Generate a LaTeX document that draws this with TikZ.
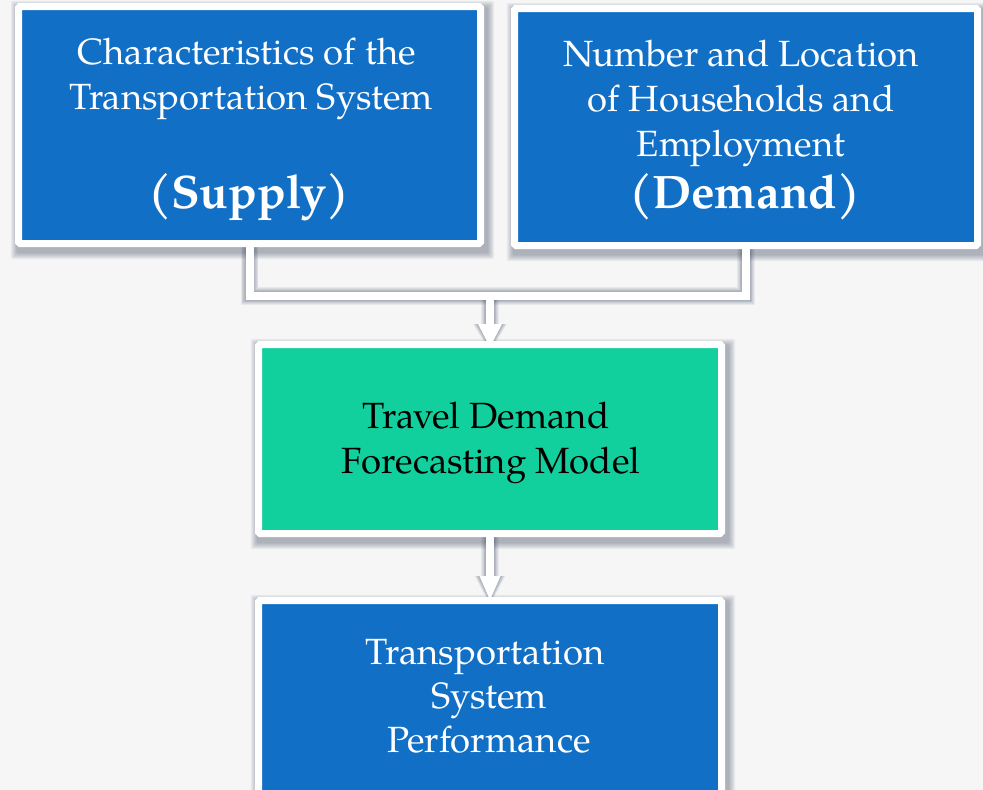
\documentclass[tikz,border=0pt]{standalone}
\usepackage{fontspec}
\setmainfont{TeX Gyre Pagella}
\usetikzlibrary{calc}
\definecolor{boxblue}{RGB}{17,111,198}
\definecolor{boxgreen}{RGB}{18,208,157}
\definecolor{bggray}{RGB}{246,246,246}
\definecolor{shadowgray}{RGB}{60,75,100}
\pgfdeclarelayer{bg}
\pgfsetlayers{bg,main}
\tikzset{
  box/.style={rectangle, draw=white, line width=7pt, inner sep=0pt, rounded corners=1.5pt},
  bluebox/.style={box, fill=boxblue},
  greenbox/.style={box, fill=boxgreen},
  txt/.style={anchor=base, inner sep=0pt, font=\fontsize{36.5}{45}\selectfont},
  bigtxt/.style={anchor=base, inner sep=0pt, font=\fontsize{47}{50}\selectfont\bfseries},
  conn/.style={draw=white, line width=8pt},
  tiphead/.style={fill=white, draw=none},
  connshadow/.style={draw=shadowgray, line width=8pt, opacity=0.08},
}
\newcommand{\myboxshadow}[1]{%
  \foreach \k in {1,...,8}{%
    \fill[shadowgray, opacity=0.06, rounded corners=2pt]
      ($(#1.north west)+(3-\k*0.9,5-\k*0.9)$) rectangle ($(#1.south east)+(3+\k*0.9,5+\k*0.9)$);
  }%
}
\begin{document}
\begin{tikzpicture}[x=1pt,y=-1pt]
\useasboundingbox (0,0) rectangle (983,790);
\begin{pgfonlayer}{bg}
  \fill[bggray] (0,0) rectangle (983,790);
\end{pgfonlayer}

% boxes
\node[bluebox, minimum width=462pt, minimum height=237pt] (sup) at (249.5,125) {};
\node[bluebox, minimum width=463pt, minimum height=237pt] (dem) at (746,127) {};
\node[greenbox, minimum width=463pt, minimum height=189pt] (tdf) at (490,439) {};
\node[bluebox, minimum width=463pt, minimum height=223pt] (tsp) at (490,712) {};

\begin{pgfonlayer}{bg}
  \myboxshadow{sup}
  \myboxshadow{dem}
  \myboxshadow{tdf}
  \myboxshadow{tsp}
\end{pgfonlayer}

% connector coordinates
\coordinate (j) at (490,296);
\coordinate (tip1) at ($(tdf.north)+(0,6)$);
\coordinate (tip2) at ($(tsp.north)+(0,3)$);
\coordinate (base1) at ($(tip1)+(0,-23)$);
\coordinate (base2) at ($(tip2)+(0,-24)$);

% connector shadows
\begin{pgfonlayer}{bg}
  \foreach \k in {1,...,6}{%
    \draw[connshadow, line width=8pt+\k*1.6pt, shift={(2,5)}] (sup.south) |- (j) -| (dem.south);
    \draw[connshadow, line width=8pt+\k*1.6pt, shift={(2,5)}] (j) -- (base1);
    \draw[connshadow, line width=8pt+\k*1.6pt, shift={(2,5)}] (tdf.south) -- (base2);
    \fill[shadowgray, opacity=0.08, shift={(2,4)}] ($(base1)+(-12-\k*0.8,0)$) -- ($(base1)+(12+\k*0.8,0)$) -- ($(tip1)+(0,\k*0.8)$) -- cycle;
    \fill[shadowgray, opacity=0.08, shift={(2,4)}] ($(base2)+(-10.5-\k*0.8,0)$) -- ($(base2)+(10.5+\k*0.8,0)$) -- ($(tip2)+(0,\k*0.8)$) -- cycle;
  }
\end{pgfonlayer}

% connectors
\draw[conn] (sup.south) |- (j) -| (dem.south);
\draw[conn] (j) -- ($(base1)+(0,1)$);
\fill[tiphead] ($(base1)+(-12,0)$) -- ($(base1)+(12,0)$) -- (tip1) -- cycle;
\draw[conn] (tdf.south) -- ($(base2)+(0,1)$);
\fill[tiphead] ($(base2)+(-10.5,0)$) -- ($(base2)+(10.5,0)$) -- (tip2) -- cycle;

% texts
\node[txt, text=white] (s1) at (247,64) {Characteristics of the};
\node[txt, text=white] (s2) at (251,109) {Transportation System};
\node[bigtxt, text=white] (s3) at (249,208) {(Supply)};

\node[txt, text=white] (d1) at (741,66) {Number and Location};
\node[txt, text=white] (d2) at (741,111) {of Households and};
\node[txt, text=white] (d3) at (741,156) {Employment};
\node[bigtxt, text=white] (d4) at (745,208) {(Demand)};

\node[txt, text=black] (m1) at (486,428) {Travel Demand};
\node[txt, text=black] (m2) at (491,473) {Forecasting Model};

\node[txt, text=white] (p1) at (485,664) {Transportation};
\node[txt, text=white] (p2) at (489,708) {System};
\node[txt, text=white] (p3) at (489,752) {Performance};
\end{tikzpicture}
\end{document}
